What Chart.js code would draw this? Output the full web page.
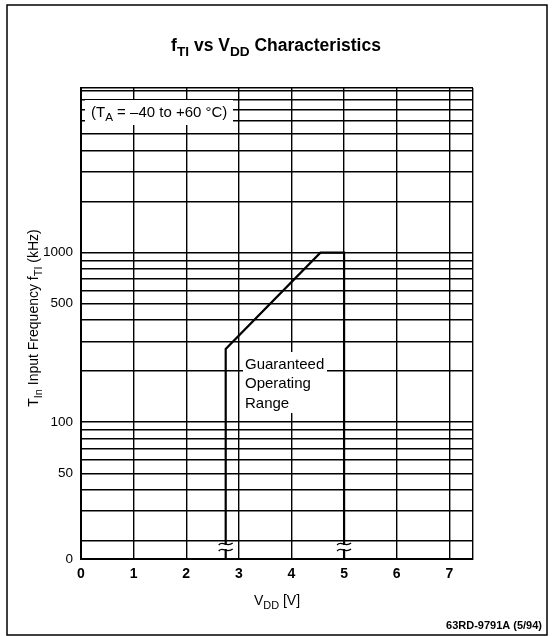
<!DOCTYPE html>
<html>
<head>
<meta charset="utf-8">
<title>fTI vs VDD Characteristics</title>
<script src="https://cdn.jsdelivr.net/npm/chart.js@4/dist/chart.umd.min.js"></script>
<style>
  html, body { margin: 0; padding: 0; background: #fff; }
  #wrap { width: 558px; height: 636px; position: relative; }
</style>
</head>
<body>
<div id="wrap"><canvas id="chart" width="558" height="636"></canvas></div>
<script>
// Guaranteed operating range boundary (supply voltage in V, input frequency in kHz)
const FREQ_FLOOR = 15.6;      // bottom of the broken axis, printed as "0"
const FREQ_CEIL = 9350;
const vddVolts     = [2.75, 2.75, 4.55, 5.0, 5.0];
const inputFreqKHz = [FREQ_FLOOR, 270, 1000, 1000, FREQ_FLOOR];

// Axis ticks
const xTickValues = [0, 1, 2, 3, 4, 5, 6, 7];
const xTickLabels = ['0', '1', '2', '3', '4', '5', '6', '7'];
const yGridValues = [20, 30, 40, 50, 60, 70, 80, 90,
                     100, 200, 300, 400, 500, 600, 700, 800, 900,
                     1000, 2000, 3000, 4000, 5000, 6000, 7000, 8000, 9000];
const yLabelValues = [FREQ_FLOOR, 50, 100, 500, 1000];
const yLabelTexts  = ['0', '50', '100', '500', '1000'];

// Axis break positions (voltages where the boundary lines cross the break)
const breakVolts = [2.75, 5.0];

const FONT = "'Liberation Sans', Arial, Helvetica, sans-serif";

// Draws text made of normal and subscript runs
function richWidth(ctx, parts, size, weight) {
  let w = 0;
  for (const p of parts) {
    ctx.font = `${weight} ${p.sub ? size * 0.78 : size}px ${FONT}`;
    w += ctx.measureText(p.t).width;
  }
  return w;
}
function drawRich(ctx, parts, x, y, size, weight, align) {
  const w = richWidth(ctx, parts, size, weight);
  let cx = align === 'center' ? x - w / 2 : (align === 'right' ? x - w : x);
  ctx.textAlign = 'left';
  ctx.textBaseline = 'alphabetic';
  for (const p of parts) {
    ctx.font = `${weight} ${p.sub ? size * 0.78 : size}px ${FONT}`;
    ctx.fillText(p.t, cx, p.sub ? y + size * 0.28 : y);
    cx += ctx.measureText(p.t).width;
  }
}

const decorations = {
  id: 'decorations',
  beforeDraw(chart) {
    const ctx = chart.ctx;
    ctx.save();
    ctx.fillStyle = '#fff';
    ctx.fillRect(0, 0, chart.width, chart.height);
    ctx.restore();
  },
  beforeDatasetsDraw(chart) {
    const ctx = chart.ctx;
    ctx.save();
    ctx.fillStyle = '#fff';
    // white panels behind the notes
    ctx.fillRect(85, 100, 148, 25);
    ctx.fillRect(243, 352, 84, 61);
    ctx.fillStyle = '#000';
    drawRich(ctx, [{t: '(T'}, {t: 'A', sub: true}, {t: ' = –40 to +60 °C)'}], 91, 117, 15, 'normal', 'left');
    ctx.font = `15px ${FONT}`;
    ctx.textAlign = 'left';
    ctx.textBaseline = 'middle';
    ctx.fillText('Guaranteed', 245, 365);
    ctx.fillText('Operating', 245, 384);
    ctx.fillText('Range', 245, 404);
    ctx.restore();
  },
  afterDatasetsDraw(chart) {
    const ctx = chart.ctx;
    const xs = chart.scales.x;
    const yb = chart.chartArea.bottom - 12;
    ctx.save();
    for (const v of breakVolts) {
      const px = xs.getPixelForValue(v);
      ctx.fillStyle = '#fff';
      ctx.fillRect(px - 3, yb - 2, 6, 4);
      ctx.strokeStyle = '#000';
      ctx.lineWidth = 1.3;
      for (const dy of [-3, 3]) {
        ctx.beginPath();
        ctx.moveTo(px - 7, yb + dy + 1);
        ctx.bezierCurveTo(px - 3, yb + dy - 4, px + 1, yb + dy + 4, px + 7, yb + dy - 1);
        ctx.stroke();
      }
    }
    ctx.restore();
  },
  afterDraw(chart) {
    const ctx = chart.ctx;
    ctx.save();
    ctx.fillStyle = '#000';
    // title
    drawRich(ctx, [{t: 'f'}, {t: 'TI', sub: true}, {t: ' vs V'}, {t: 'DD', sub: true}, {t: ' Characteristics'}],
             276, 51, 17.5, 'bold', 'center');
    // x axis title
    drawRich(ctx, [{t: 'V'}, {t: 'DD', sub: true}, {t: ' [V]'}], 277, 605, 14, 'normal', 'center');
    // y axis title
    ctx.save();
    ctx.translate(38, 318);
    ctx.rotate(-Math.PI / 2);
    drawRich(ctx, [{t: 'T'}, {t: 'In', sub: true}, {t: ' Input Frequency f'}, {t: 'TI', sub: true}, {t: ' (kHz)'}],
             0, 0, 14, 'normal', 'center');
    ctx.restore();
    // figure code
    ctx.font = `bold 11px ${FONT}`;
    ctx.textAlign = 'right';
    ctx.textBaseline = 'middle';
    ctx.fillText('63RD-9791A (5/94)', 542, 626);
    // frame
    ctx.strokeStyle = '#000';
    ctx.lineWidth = 1.5;
    ctx.strokeRect(7, 5, 540, 630);
    ctx.restore();
  }
};

new Chart(document.getElementById('chart'), {
  type: 'scatter',
  data: {
    datasets: [{
      data: vddVolts.map((v, i) => ({x: v, y: inputFreqKHz[i]})),
      showLine: true,
      borderColor: '#000',
      borderWidth: 2.2,
      pointRadius: 0,
      fill: false,
      tension: 0
    }]
  },
  options: {
    responsive: false,
    animation: false,
    events: [],
    layout: { padding: { left: 0, top: 88, right: 85, bottom: 0 } },
    plugins: { legend: { display: false }, tooltip: { enabled: false } },
    scales: {
      x: {
        type: 'linear',
        min: 0,
        max: 7.45,
        afterFit(scale) { scale.height = 77; },
        afterBuildTicks(scale) {
          scale.ticks = [...xTickValues, 7.45].map(v => ({value: v}));
        },
        ticks: {
          autoSkip: false,
          maxRotation: 0,
          padding: 7,
          color: '#000',
          font: { family: FONT, size: 14, weight: 'bold' },
          callback(value) {
            const i = xTickValues.indexOf(value);
            return i >= 0 ? xTickLabels[i] : '';
          }
        },
        grid: { color: '#000', lineWidth: 1.4, drawTicks: false },
        border: { display: true, color: '#000', width: 2 }
      },
      y: {
        type: 'logarithmic',
        min: FREQ_FLOOR,
        max: FREQ_CEIL,
        afterFit(scale) { scale.width = 81; },
        afterBuildTicks(scale) {
          scale.ticks = [FREQ_FLOOR, ...yGridValues, FREQ_CEIL].map(v => ({value: v}));
        },
        ticks: {
          autoSkip: false,
          padding: 8,
          color: '#000',
          font: { family: FONT, size: 13.5 },
          callback(value) {
            const i = yLabelValues.indexOf(value);
            return i >= 0 ? yLabelTexts[i] : '';
          }
        },
        grid: { color: '#000', lineWidth: 1.4, drawTicks: false },
        border: { display: true, color: '#000', width: 2 }
      }
    }
  },
  plugins: [decorations]
});

// right and top edges of the plot area
Chart.register({
  id: 'areaEdges',
  afterDraw(chart) {
    if (!chart.chartArea) return;
    const {top, right, bottom, left} = chart.chartArea;
    const ctx = chart.ctx;
    ctx.save();
    ctx.strokeStyle = '#000';
    ctx.lineWidth = 2;
    ctx.beginPath();
    ctx.moveTo(left, top); ctx.lineTo(right, top); ctx.lineTo(right, bottom);
    ctx.stroke();
    ctx.restore();
  }
});
</script>
</body>
</html>
